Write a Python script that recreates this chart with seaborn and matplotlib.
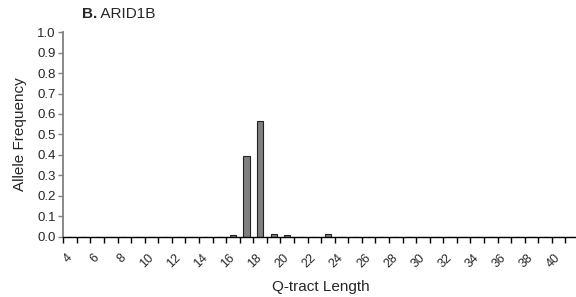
import numpy as np
import pandas as pd
import seaborn as sns
import matplotlib.pyplot as plt

# Q-tract lengths shown on the axis and allele frequency for each
q_length = [4, 5, 6, 7, 8, 9, 10, 11, 12, 13, 14, 15, 16, 17, 18, 19, 20, 21, 22,
            23, 24, 25, 26, 27, 28, 29, 30, 31, 32, 33, 34, 35, 36, 37, 38, 39, 40, 41]
allele_freq = [0, 0, 0, 0, 0, 0, 0, 0, 0, 0, 0, 0, 0.005, 0.395, 0.565, 0.01, 0.005, 0, 0,
               0.01, 0, 0, 0, 0, 0, 0, 0, 0, 0, 0, 0, 0, 0, 0, 0, 0, 0, 0]
x_labels = ['4', '6', '8', '10', '12', '14', '16', '18', '20', '22', '24', '26',
            '28', '30', '32', '34', '36', '38', '40']
y_ticks = [0.0, 0.1, 0.2, 0.3, 0.4, 0.5, 0.6, 0.7, 0.8, 0.9, 1.0]

df = pd.DataFrame({'length': [str(v) for v in q_length], 'freq': allele_freq})

sns.set_style('ticks')
plt.rcParams['font.family'] = ['Liberation Sans', 'DejaVu Sans']

fig = plt.figure(figsize=(5.76, 2.97), dpi=100)
ax = fig.add_axes([63.3 / 576, 60.5 / 297, 515.7 / 576, 204.2 / 297])

sns.barplot(data=df, x='length', y='freq', order=df['length'], color='#808080',
            edgecolor='#222222', linewidth=0.8, width=0.45, saturation=1, ax=ax)

n = len(q_length)
ax.set_xlim(-0.5, n - 0.5)
ax.set_ylim(0, 1.0)

# ticks sit on the category boundaries, labels on the centres
ax.set_xticks(np.arange(n + 1) - 0.5)
ax.set_xticklabels([])
ax.tick_params(axis='x', which='major', direction='out', length=4, width=1, color='black')
lab_pos = [q_length.index(int(s)) for s in x_labels]
ax.set_xticks(lab_pos, minor=True)
ax.set_xticklabels(x_labels, minor=True, rotation=45, ha='right', va='center',
                   rotation_mode='anchor', fontsize=9)
ax.tick_params(axis='x', which='minor', length=0, pad=14)

ax.set_yticks(y_ticks)
ax.set_yticklabels(['%.1f' % v for v in y_ticks], fontsize=9.5)
ax.tick_params(axis='y', direction='out', length=3.5, width=1, color='#808080', pad=2)

sns.despine(ax=ax)
ax.spines['left'].set_color('#808080')
ax.spines['left'].set_linewidth(1.3)
ax.spines['bottom'].set_color('black')
ax.spines['bottom'].set_linewidth(1)

ax.set_xlabel('Q-tract Length', fontsize=11, labelpad=7)
ax.set_ylabel('Allele Frequency', fontsize=11, labelpad=7)

t1 = fig.text(82 / 576, 1 - 18 / 297, 'B.', fontsize=11, fontweight='bold', va='baseline')
ax.annotate(' ARID1B', xy=(1, 0), xycoords=t1, fontsize=11, va='bottom', ha='left')

fig.savefig('out.png', dpi=100)
